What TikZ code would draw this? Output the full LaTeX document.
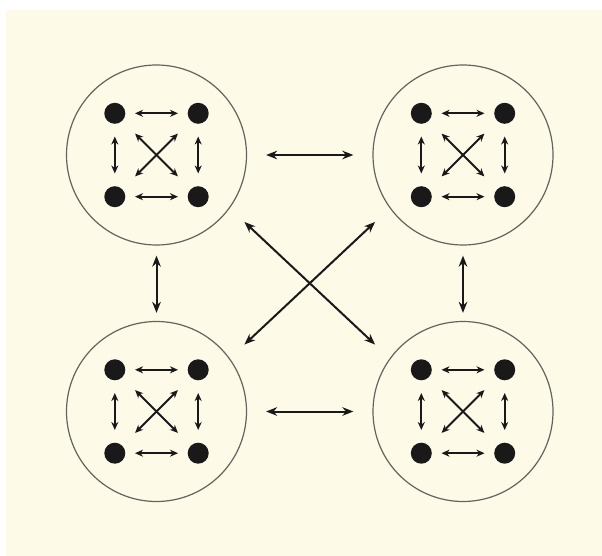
\documentclass[tikz,border=0pt]{standalone}
\usetikzlibrary{arrows.meta}
\definecolor{paper}{RGB}{253,250,232}
\definecolor{ringgray}{RGB}{100,100,95}
\definecolor{ink}{RGB}{25,25,25}
\tikzset{
  ring/.style={circle, draw=ringgray, line width=1.2pt, minimum size=180pt, inner sep=0pt},
  dot/.style={circle, fill=ink, minimum size=21pt, inner sep=0pt},
  bigarrow/.style={line width=2pt, draw=ink,
    {Stealth[length=11pt,width=8.5pt,inset=3.5pt]}-{Stealth[length=11pt,width=8.5pt,inset=3.5pt]}},
  smallarrow/.style={line width=1.8pt, draw=ink,
    {Stealth[length=8pt,width=7pt,inset=2.5pt]}-{Stealth[length=8pt,width=7pt,inset=2.5pt]}}
}
\begin{document}
\begin{tikzpicture}[x=1pt,y=-1pt]
\fill[white] (0,0) rectangle (602,556);
\fill[paper] (6,10) rectangle (602,556); % the sheet
\useasboundingbox (0,0) rectangle (602,556);

% four clusters, each with four members
\foreach \n/\x/\y in {tl/156.5/155,tr/463/155,bl/156.5/411.5,br/463/411.5}{
  \node[ring] (\n) at (\x,\y) {};
  \node[dot] (\n-a) at (\x-41.7,\y-41.7) {};
  \node[dot] (\n-b) at (\x+41.7,\y-41.7) {};
  \node[dot] (\n-c) at (\x-41.7,\y+41.7) {};
  \node[dot] (\n-d) at (\x+41.7,\y+41.7) {};
  \draw[smallarrow, shorten <=9.5pt, shorten >=9.5pt] (\n-a) -- (\n-b);
  \draw[smallarrow, shorten <=9.5pt, shorten >=9.5pt] (\n-c) -- (\n-d);
  \draw[smallarrow, shorten <=12.5pt, shorten >=12.5pt] (\n-a) -- (\n-c);
  \draw[smallarrow, shorten <=12.5pt, shorten >=12.5pt] (\n-b) -- (\n-d);
  \draw[smallarrow, shorten <=18pt, shorten >=18pt] (\n-a) -- (\n-d);
  \draw[smallarrow, shorten <=18pt, shorten >=18pt] (\n-b) -- (\n-c);
}

% links between the clusters
\draw[bigarrow, shorten <=19pt, shorten >=19pt] (tl) -- (tr);
\draw[bigarrow, shorten <=19pt, shorten >=19pt] (bl) -- (br);
\draw[bigarrow, shorten <=10pt, shorten >=8pt] (tl) -- (bl);
\draw[bigarrow, shorten <=10pt, shorten >=8pt] (tr) -- (br);
\draw[bigarrow, shorten <=20pt, shorten >=20pt] (tl.-36) -- (br.144);
\draw[bigarrow, shorten <=20pt, shorten >=20pt] (tr.-144) -- (bl.36);
\end{tikzpicture}
\end{document}
